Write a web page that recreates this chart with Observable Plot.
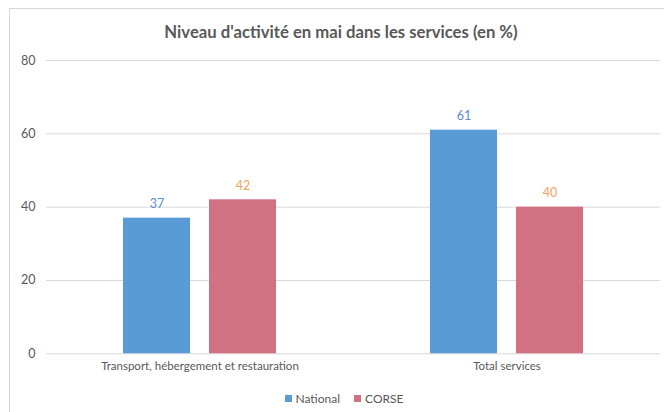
<!DOCTYPE html>
<html>
<head>
<meta charset="utf-8">
<script src="https://cdn.jsdelivr.net/npm/d3@7"></script>
<script src="https://cdn.jsdelivr.net/npm/@observablehq/plot@0.6"></script>
<style>
  html, body { margin: 0; padding: 0; background: #fff; }
  body { width: 664px; height: 412px; position: relative; overflow: hidden; font-family: Lato, "Open Sans", sans-serif; }
  #frame { position: absolute; left: 9px; top: 8px; width: 700px; height: 500px; border-left: 1px solid #d9d9d9; border-top: 1px solid #d9d9d9; }
  #title { position: absolute; left: 0; top: 0; width: 664px; height: 50px; line-height: 64px; text-align: center; font-size: 16.7px; font-weight: 700; color: #595959; padding-left: 18px; box-sizing: border-box; }
  #chart { position: absolute; left: 0; top: 50px; }
  #legend { position: absolute; left: 0; top: 388px; width: 664px; height: 20px; display: flex; justify-content: center; align-items: center; gap: 14px; font-size: 12px; color: #595959; padding-left: 24px; box-sizing: border-box; }
  #legend span.item { display: inline-flex; align-items: center; gap: 4px; }
  #legend i { display: inline-block; width: 7px; height: 7px; }
</style>
</head>
<body>
<div id="frame"></div>
<div id="title">Niveau d'activité en mai dans les services (en %)</div>
<div id="chart"></div>
<div id="legend"></div>
<script>
const categories = ["Transport, hébergement et restauration", "Total services"];
const seriesNames = ["National", "CORSE"];
const nationalValues = [37, 61];
const corseValues = [42, 40];
const yTicks = [0, 20, 40, 60, 80];
const barColors = ["#5b9bd5", "#d17283"];
const labelColors = ["#5b8fcf", "#f0a35e"];

const data = [];
categories.forEach((c, i) => {
  data.push({category: c, series: seriesNames[0], value: nationalValues[i]});
  data.push({category: c, series: seriesNames[1], value: corseValues[i]});
});

const chart = Plot.plot({
  width: 664,
  height: 330,
  marginTop: 10,
  marginBottom: 26.7,
  marginLeft: 45,
  marginRight: 4,
  style: { fontFamily: "Lato, 'Open Sans', sans-serif", color: "#595959", background: "transparent" },
  fx: { domain: categories, padding: 0, label: null, tickSize: 0, tickPadding: 8, axis: "bottom" },
  x: { domain: seriesNames, paddingInner: 0.218, paddingOuter: 0.874, axis: null },
  y: { domain: [0, 80], ticks: yTicks, label: null, tickSize: 0, tickPadding: 11 },
  color: { domain: seriesNames, range: barColors },
  marks: [
    Plot.ruleY(yTicks, { stroke: "#d9d9d9", strokeWidth: 1 }),
    Plot.barY(data, { fx: "category", x: "series", y: "value", fill: "series" }),
    Plot.text(data, {
      fx: "category", x: "series", y: "value", text: d => String(d.value),
      dy: -14, fontSize: 12.5, lineAnchor: "middle",
      fill: d => labelColors[seriesNames.indexOf(d.series)]
    })
  ]
});
chart.querySelectorAll('g[aria-label="y-axis tick label"] text, g[aria-label="fx-axis tick label"] text').forEach(t => t.setAttribute("fill", "#595959"));
chart.querySelectorAll('g[aria-label="y-axis tick label"]').forEach(g => g.setAttribute("font-size", "12.5"));
chart.querySelectorAll('g[aria-label="fx-axis tick label"]').forEach(g => g.setAttribute("font-size", "11.5"));
document.getElementById("chart").appendChild(chart);

const legend = document.getElementById("legend");
seriesNames.forEach((s, i) => {
  const item = document.createElement("span");
  item.className = "item";
  const sw = document.createElement("i");
  sw.style.background = barColors[i];
  item.appendChild(sw);
  item.appendChild(document.createTextNode(s));
  legend.appendChild(item);
});
</script>
</body>
</html>
